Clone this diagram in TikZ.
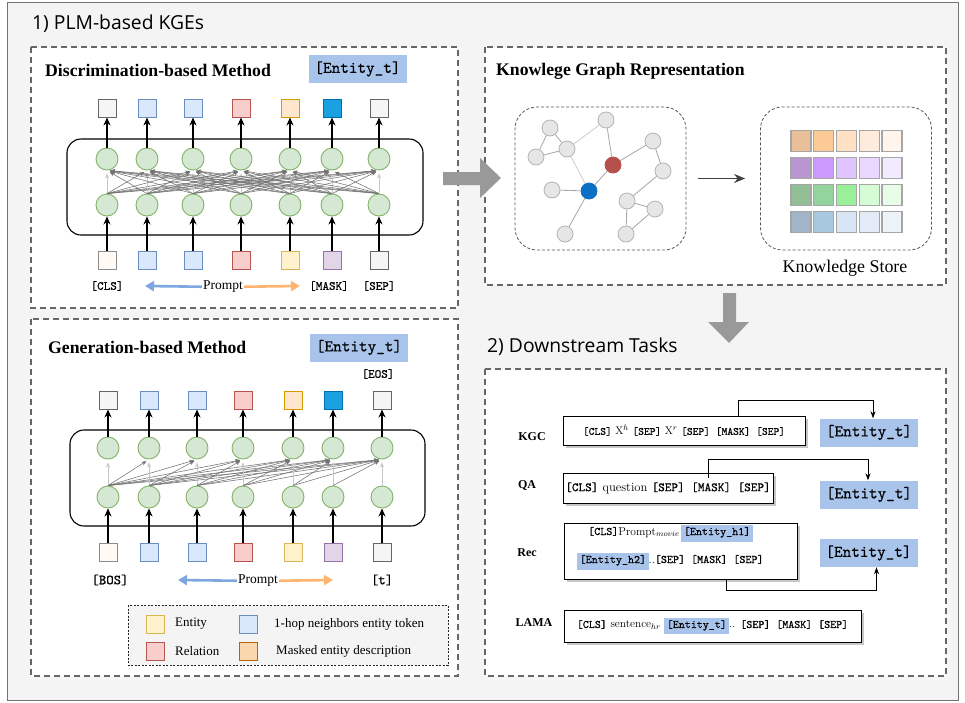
\documentclass[tikz,border=0pt]{standalone}
\usepackage{fontspec}
\setmonofont{lmmono10-regular.otf}[FakeBold=0.6]
\newfontfamily\tms{Liberation Serif}
\newfontfamily\headfont{Open Sans}
\usetikzlibrary{positioning,arrows.meta,calc,shadows}
\definecolor{bggray}{HTML}{F4F4F4}
\definecolor{pandash}{HTML}{666666}
\definecolor{entblue}{HTML}{A9C4EB}
\definecolor{neuF}{HTML}{D5E8D4}\definecolor{neuD}{HTML}{82B366}
\definecolor{grF}{HTML}{F5F5F5}\definecolor{grD}{HTML}{666666}
\definecolor{blF}{HTML}{DAE8FC}\definecolor{blD}{HTML}{6C8EBF}
\definecolor{rdF}{HTML}{F8CECC}\definecolor{rdD}{HTML}{B85450}
\definecolor{orF}{HTML}{FFE6CC}\definecolor{orD}{HTML}{D79B00}
\definecolor{dkF}{HTML}{1BA1E2}\definecolor{dkD}{HTML}{006EAF}
\definecolor{crF}{HTML}{FFFAF3}\definecolor{crD}{HTML}{8C8C8C}
\definecolor{ylF}{HTML}{FFF2CC}\definecolor{ylD}{HTML}{D6B656}
\definecolor{ppF}{HTML}{E1D5E7}\definecolor{ppD}{HTML}{9673A6}
\definecolor{mkF}{HTML}{FAD7AC}\definecolor{mkD}{HTML}{B46504}
\definecolor{pblue}{HTML}{7EA6E0}
\definecolor{porange}{HTML}{FFB570}
\definecolor{bigarr}{HTML}{999999}
\definecolor{gnF}{HTML}{E6E6E6}\definecolor{gnD}{HTML}{B3B3B3}
\definecolor{kred}{HTML}{B5504A}\definecolor{kblue}{HTML}{0B6FC4}
\newcommand{\hlent}[1]{{\setlength{\fboxsep}{2.5pt}\colorbox{entblue}{\rule[-4pt]{0pt}{11pt}\texttt{#1}}}}
\tikzset{
  pan/.style={draw=pandash, line width=1.6pt, dash pattern=on 6pt off 4pt, fill=white},
  dbox/.style={draw=black!65, line width=0.8pt, dash pattern=on 3pt off 2pt, rounded corners=22pt, minimum width=171pt, minimum height=143pt},
  sq/.style={line width=1pt, minimum size=18pt, inner sep=0pt},
  sqgr/.style={sq, fill=grF, draw=grD},
  sqbl/.style={sq, fill=blF, draw=blD},
  sqrd/.style={sq, fill=rdF, draw=rdD},
  sqor/.style={sq, fill=orF, draw=orD},
  sqdk/.style={sq, fill=dkF, draw=dkD},
  sqcr/.style={sq, fill=crF, draw=crD},
  sqyl/.style={sq, fill=ylF, draw=ylD},
  sqpp/.style={sq, fill=ppF, draw=ppD},
  sqmk/.style={sq, fill=mkF, draw=mkD},
  neu/.style={circle, fill=neuF, draw=neuD, line width=0.9pt, minimum size=22pt, inner sep=0pt},
  blk/.style={draw, line width=1.1pt, rounded corners=14pt},
  up/.style={-{Stealth[length=8pt,width=7pt]}, line width=1.2pt},
  mesh/.style={-{Stealth[length=5pt,width=4pt]}, draw=black!55, line width=0.55pt, shorten >=3pt},
  self/.style={mesh, draw=black!22},
  ent/.style={fill=entblue, inner sep=0pt, minimum width=98pt, minimum height=28pt, font=\ttfamily\fontsize{16.4}{16.4}\selectfont},
  tit/.style={anchor=west, inner sep=0pt, font=\tms\bfseries\fontsize{17.7}{17.7}\selectfont},
  tk/.style={font=\ttfamily\fontsize{12.5}{12.5}\selectfont},
  prm/.style={inner sep=1pt, font=\tms\fontsize{13.5}{13.5}\selectfont},
  parr/.style={-{Triangle[length=9pt,width=10pt]}, line width=2.6pt},
  leg/.style={anchor=west, inner sep=0pt, font=\tms\fontsize{13}{13}\selectfont},
  gn/.style={circle, fill=gnF, draw=gnD, line width=0.8pt, minimum size=16pt, inner sep=0pt},
  ge/.style={draw=black!35, line width=0.8pt},
  gel/.style={draw=black!20, line width=0.8pt},
  cell/.style={draw=black!35, line width=1.3pt, minimum width=20pt, minimum height=21pt, inner sep=0pt},
  task/.style={draw, line width=0.9pt, fill=white, inner sep=0pt, drop shadow={shadow xshift=3pt, shadow yshift=-3pt, opacity=1, fill=black!22}},
  tsk/.style={font=\tms\bfseries\fontsize{12}{12}\selectfont},
  lnk/.style={-{Stealth[length=7pt,width=5pt]}, line width=0.9pt}
}

\begin{document}
\begin{tikzpicture}[x=1pt, y=-1pt]
	\useasboundingbox (0,0) rectangle (965,702);
	\draw[black!55, line width=1pt, fill=bggray] (7,2) rectangle (958,700);
	\node[anchor=west, inner sep=0pt, font=\headfont\fontsize{19.3}{19.3}\selectfont] (t1) at (32,24) {1) PLM-based KGEs};
	\node[anchor=west, inner sep=0pt, font=\headfont\fontsize{19.3}{19.3}\selectfont] (t2) at (487,347) {2) Downstream Tasks};
	%
	\draw[pan] (31,47) rectangle (458,308);
	\draw[pan] (31,319) rectangle (458,676);
	\draw[pan] (485,47) rectangle (946,285);
	\draw[pan] (485,369) rectangle (946,676);
	%
	% discrimination-based
	\node[tit] (dtit) at (45,70) {Discrimination-based Method};
	\node[ent] (dent) at (357.5,69) {[Entity\_t]};
	\draw[blk] (67,139) rectangle (423,235);
	\foreach \x/\ts/\bs [count=\i] in {107/sqgr/sqcr, 147/sqbl/sqbl, 193/sqbl/sqbl, 241/sqrd/sqrd, 290/sqor/sqyl, 332/sqdk/sqpp, 379/sqgr/sqgr} {
		\node[\ts] (dt\i) at (\x,108) {};
		\node[neu] (du\i) at (\x,159) {};
		\node[neu] (dl\i) at (\x,205) {};
		\node[\bs] (db\i) at (\x,260) {};
	}
	\foreach \i in {1,...,7} {
		\foreach \j in {1,...,7} {
			\ifnum\i=\j \draw[self] (dl\i.north) -- (du\j.south); \else \draw[mesh] (dl\i.north) -- (du\j.south); \fi
		}
		\draw[up] (db\i) -- (dl\i);
		\draw[up] (du\i) -- (dt\i);
	}
	\node[tk] (dcls) at (107,286) {[CLS]};
	\node[tk] (dmask) at (329,286) {[MASK]};
	\node[tk] (dsep) at (379,286) {[SEP]};
	\node[prm] (dprm) at (223,287) {Prompt};
	\coordinate (dpl) at (145,286);
	\coordinate (dpr) at (300,286);
	\draw[parr, pblue] (dprm) -- (dpl);
	\draw[parr, porange] (dprm) -- (dpr);
	%
	% generation-based
	\node[tit] (gtit) at (48,347) {Generation-based Method};
	\node[ent] (gent) at (359,347.5) {[Entity\_t]};
	\node[tk, font=\ttfamily\fontsize{12.5}{12.5}\selectfont] (geos) at (378,374) {[EOS]};
	\draw[blk] (70,430) rectangle (425,526);
	\foreach \x/\ts/\bs [count=\i] in {108/sqgr/sqcr, 149/sqbl/sqbl, 197/sqbl/sqbl, 243/sqrd/sqrd, 293/sqor/sqyl, 333/sqdk/sqpp, 382/sqgr/sqgr} {
		\node[\ts] (gt\i) at (\x,400) {};
		\node[neu] (gu\i) at (\x,448) {};
		\node[neu] (gl\i) at (\x,497) {};
		\node[\bs] (gb\i) at (\x,552) {};
	}
	\foreach \i in {1,...,7} {
		\foreach \j in {\i,...,7} {
			\ifnum\i=\j \draw[self] (gl\i.north) -- (gu\j.south); \else \draw[mesh] (gl\i.north) -- (gu\j.south); \fi
		}
		\draw[up] (gb\i) -- (gl\i);
		\draw[up] (gu\i) -- (gt\i);
	}
	\node[tk, font=\ttfamily\fontsize{14}{14}\selectfont] (gbos) at (110,580) {[BOS]};
	\node[tk, font=\ttfamily\fontsize{14}{14}\selectfont] (gtt) at (382,580) {[t]};
	\node[prm] (gprm) at (258,581) {Prompt};
	\coordinate (gpl) at (178,580);
	\coordinate (gpr) at (333,580);
	\draw[parr, pblue] (gprm) -- (gpl);
	\draw[parr, porange] (gprm) -- (gpr);
	%
	% legend
	\draw[draw=black!85, line width=1pt, dash pattern=on 2pt off 1.5pt, fill=bggray] (128,605) rectangle (448,665);
	\node[sqyl] (lg1) at (155,624) {};
	\node[sqbl] (lg2) at (248,624) {};
	\node[sqrd] (lg3) at (155,651) {};
	\node[sqmk] (lg4) at (248,651) {};
	\node[leg] (lt1) at (175,624) {Entity};
	\node[leg] (lt2) at (274,624) {1-hop neighbors entity token};
	\node[leg] (lt3) at (175,651) {Relation};
	\node[leg] (lt4) at (276,651) {Masked entity description};
	%
	% knowledge graph representation
	\node[tit] (ktit) at (496,71) {Knowlege Graph Representation};
	\node[dbox] (kgbox) at (600.5,178.5) {};
	\node[dbox] (ksbox) at (846,178.5) {};
	\draw[-{Stealth[length=11pt,width=9pt]}, line width=1pt, black!75] ([xshift=12pt]kgbox.east) -- ([xshift=-15pt]ksbox.west);
	\foreach \x/\y [count=\n] in {550/128, 606/120, 536/157, 567/149, 653/141, 663/171, 552/190, 627/201, 655/209, 565/234, 626/234}
		\node[gn] (kn\n) at (\x,\y) {};
	\node[gn, fill=kred, draw=kred] (knR) at (613,165) {};
	\node[gn, fill=kblue, draw=kblue] (knB) at (589,191) {};
	\foreach \p/\q in {3/1, 1/4, 3/4, 2/R, R/B, R/5, 5/6, 6/8, 8/9, 8/11, 9/11, B/7, B/10}
		\draw[ge] (kn\p) -- (kn\q);
	\draw[gel] (kn4) -- (kn2);
	\draw[gel] (kn4) -- (knB);
	\foreach \row [count=\r] in {{E8BF98,FDC995,FEE0C2,FEEBDB,FFF5EC},{B996D2,CC99FF,E0C4FF,EAD7FD,F2EAFE},{93BF96,93D49C,99F099,D6FCD6,E8FCE8},{A2B4C8,A8C8E0,D7E5F4,E3ECF6,EEF3F9}} {
		\foreach \hex [count=\k] in \row {
			\definecolor{cc}{HTML}{\hex}
			\node[cell, fill=cc] (ks\r\k) at ({801+(\k-1)*22.75},{141+(\r-1)*27}) {};
		}
	}
	\node[font=\tms\fontsize{17.9}{17.9}\selectfont] (kslab) at (845,268) {Knowledge Store};
	%
	% big arrows
	\fill[bigarr] (443,172) -- (480,172) -- (480,158) -- (501,178) -- (480,198) -- (480,185) -- (443,185) -- cycle;
	\fill[bigarr] (723,293) -- (736,293) -- (736,322) -- (749,322) -- (729,343) -- (708,322) -- (723,322) -- cycle;
	%
	% downstream tasks
	\node[tsk] (lkgc) at (532,437) {KGC};
	\node[task, minimum width=242pt, minimum height=29pt, font=\fontsize{11}{11}\selectfont] (kgc) at (684,430.5) {\texttt{[CLS]} X$^h$ \texttt{[SEP]} X$^r$ \texttt{[SEP] [MASK] [SEP]}};
	\node[ent] (kgcent) at (869,432.5) {[Entity\_t]};
	\draw[lnk] ([xshift=176pt]kgc.north west) -- ++(0,-15) -| ([xshift=4pt]kgcent.north);
	%
	\node[tsk] (lqa) at (527,485) {QA};
	\node[task, minimum width=210pt, minimum height=30pt, font=\fontsize{12.6}{12.6}\selectfont] (qa) at (668,488) {\texttt{[CLS]} question \texttt{[SEP] [MASK] [SEP]}};
	\node[ent] (qaent) at (869,494.5) {[Entity\_t]};
	\draw[lnk] ([xshift=146pt,yshift=-5pt]qa.north west) -- ++(0,-18) -| ([xshift=-1pt]qaent.north);
	%
	\node[tsk] (lrec) at (527,553) {Rec};
	\node[task, minimum width=233pt, minimum height=56pt] (rec) at (680.5,551) {};
	\node[anchor=west, inner sep=0pt, font=\fontsize{11.5}{11.5}\selectfont] (rec1) at (588,533) {\texttt{[CLS]}Prompt$_{movie}$\,\hlent{[Entity\_h1]}};
	\node[anchor=west, inner sep=0pt, font=\fontsize{11.5}{11.5}\selectfont] (rec2) at (577,561) {\hlent{[Entity\_h2]}..\texttt{[SEP] [MASK] [SEP]}};
	\node[ent] (recent) at (868.5,553) {[Entity\_t]};
	\draw[lnk] ([xshift=163pt]rec.south west) -- ++(0,11) -| ([xshift=8pt]recent.south);
	%
	\node[tsk] (llama) at (534,623) {LAMA};
	\node[task, minimum width=297pt, minimum height=32pt, font=\fontsize{11.4}{11.4}\selectfont] (lama) at (712.5,626) {\texttt{[CLS]} sentence$_{hr}$ \hlent{[Entity\_t]}.. \texttt{[SEP] [MASK] [SEP]}};
\end{tikzpicture}
\end{document}
